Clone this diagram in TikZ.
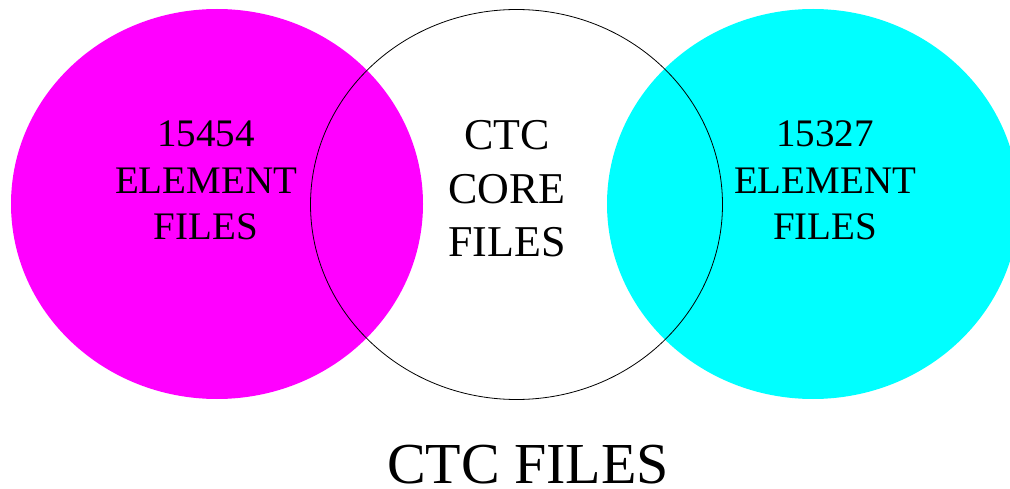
\documentclass[tikz,border=0pt]{standalone}
\usepackage{fontspec}
\setmainfont{Liberation Serif}
\usetikzlibrary{shapes.geometric,positioning}

\definecolor{setmagenta}{RGB}{255,0,255}
\definecolor{setcyan}{RGB}{0,255,255}

\tikzset{
  setdisc/.style={ellipse,inner sep=0pt,minimum width=412pt,minimum height=390pt},
  settext/.style={align=center,font=\fontsize{39}{46.5}\selectfont},
  coretext/.style={align=center,font=\fontsize{44}{53.5}\selectfont},
}

\begin{document}
\begin{tikzpicture}[x=1pt,y=-1pt]
        \useasboundingbox (0,0) rectangle (1010,489);
        \clip (0,0) rectangle (1010,489);
        \node[setdisc,fill=setmagenta] (left set) at (217,204) {};
        \node[setdisc,fill=setcyan] (right set) at (813,204) {};
        \node[setdisc,draw=black,line width=0.8pt] (core set) at (516.5,204.5) {};
        \node[settext] (left text) at (206,180.5) {15454\\ELEMENT\\FILES};
        \node[settext] (right text) at (825,180.5) {15327\\ELEMENT\\FILES};
        \node[coretext] (core text) at (507,189) {CTC\\CORE\\FILES};
        \node[anchor=base,inner sep=0pt,font=\fontsize{58}{60}\selectfont] (title) at (528,483) {CTC FILES};
\end{tikzpicture}
\end{document}
